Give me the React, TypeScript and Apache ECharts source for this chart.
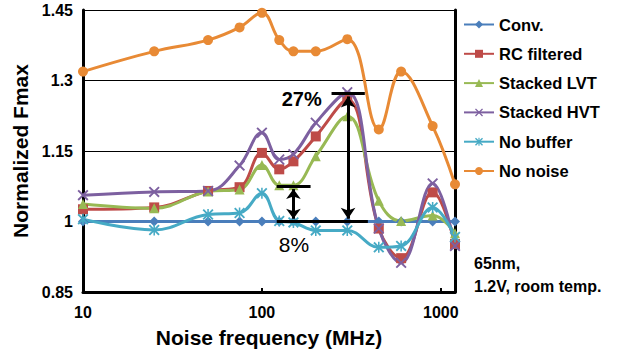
import React, { useEffect, useRef } from "react";
import * as echarts from "echarts";

const freqs = [10, 25, 50, 75, 100, 125, 150, 200, 300, 450, 600, 900, 1200];
const conv = [1, 1, 1, 1, 1, 1, 1, 1, 1, 1, 1, 1, 1];
const rcFiltered = [1.026, 1.03, 1.065, 1.073, 1.146, 1.111, 1.128, 1.181, 1.259, 0.985, 0.922, 1.062, 0.952];
const stackedLVT = [1.037, 1.028, 1.064, 1.068, 1.12, 1.077, 1.077, 1.139, 1.224, 1.044, 1.001, 1.013, 0.975];
const stackedHVT = [1.056, 1.063, 1.065, 1.119, 1.189, 1.132, 1.143, 1.21, 1.275, 0.985, 0.912, 1.081, 0.948];
const noBuffer = [1.005, 0.982, 1.015, 1.018, 1.06, 1.001, 0.998, 0.981, 0.981, 0.945, 0.948, 1.03, 0.967];
const noNoise = [1.319, 1.362, 1.386, 1.413, 1.444, 1.386, 1.362, 1.362, 1.388, 1.196, 1.319, 1.203, 1.079];

const yTicks = [0.85, 1, 1.15, 1.3, 1.45];
const xTicks = [10, 100, 1000];

// annotation values (data coordinates)
const baseLevel = 1.0;
const level8 = 1.075;
const level27 = 1.272;
const arrow8X = 150;
const arrow27X = 303;

const FONT = "'Liberation Sans', Arial, sans-serif";

const X_PATH = "path://M0,1.2 L1.2,0 L5,3.8 L8.8,0 L10,1.2 L6.2,5 L10,8.8 L8.8,10 L5,6.2 L1.2,10 L0,8.8 L3.8,5 Z";
const STAR_PATH =
  "path://M0,1.2 L1.2,0 L5,3.8 L8.8,0 L10,1.2 L6.2,5 L10,8.8 L8.8,10 L5,6.2 L1.2,10 L0,8.8 L3.8,5 Z M4.3,0 L5.7,0 L5.7,10 L4.3,10 Z";

function pairs(vals: number[]) {
  return freqs.map((f, i) => [f, vals[i]]);
}

export default function App() {
  const ref = useRef<HTMLDivElement>(null);
  useEffect(() => {
    document.body.style.margin = "0";
    if (!ref.current) return;
    const chart = echarts.init(ref.current, undefined, { renderer: "svg" });
    const mk = (name: string, vals: number[], color: string, symbol: string, size: number) => ({
      name,
      type: "line",
      data: pairs(vals),
      smooth: 0.4,
      symbol,
      symbolSize: size,
      lineStyle: { color, width: 3 },
      itemStyle: { color },
      emphasis: { disabled: true },
    });
    const series: any[] = [
      mk("Conv.", conv, "#4A7EBB", "diamond", 10),
      mk("RC filtered", rcFiltered, "#BE4B48", "rect", 10),
      mk("Stacked LVT", stackedLVT, "#98B954", "triangle", 10),
      mk("Stacked HVT", stackedHVT, "#7D60A0", X_PATH, 11),
      mk("No buffer", noBuffer, "#46AAC5", STAR_PATH, 11),
      mk("No noise", noNoise, "#E88A35", "circle", 10),
    ];
    series[5].markLine = {
      silent: true,
      symbol: ["none", "none"],
      label: { show: false },
      lineStyle: { color: "#000", width: 3, type: "solid" },
      data: [
        [{ coord: [121, baseLevel] }, { coord: [391, baseLevel] }],
        [{ coord: [121, level8] }, { coord: [187, level8] }],
        [{ coord: [245, level27] }, { coord: [376, level27] }],
        [
          { coord: [arrow8X, baseLevel + 0.006], symbol: "arrow", symbolSize: [11, 10] },
          { coord: [arrow8X, level8 - 0.006], symbol: "arrow", symbolSize: [11, 10] },
        ],
        [
          { coord: [arrow27X, baseLevel + 0.006], symbol: "arrow", symbolSize: [11, 11] },
          { coord: [arrow27X, level27 - 0.006], symbol: "arrow", symbolSize: [11, 11] },
        ],
      ],
    };
    series[5].markPoint = {
      silent: true,
      symbol: "circle",
      symbolSize: 1,
      itemStyle: { color: "rgba(0,0,0,0)" },
      data: [
        {
          coord: [167, 1.261],
          label: { show: true, position: "inside", formatter: "27%", color: "#000", fontSize: 20, fontWeight: "bold", fontFamily: FONT },
        },
        {
          coord: [151, 0.952],
          label: { show: true, position: "inside", formatter: "8%", color: "#000", fontSize: 21, fontFamily: FONT },
        },
      ],
    };

    chart.setOption({
      animation: false,
      grid: { left: 83, right: 164, top: 10, bottom: 60, containLabel: false },
      legend: {
        orient: "vertical",
        left: 463,
        top: 16,
        padding: 0,
        itemWidth: 30,
        itemHeight: 10,
        itemGap: 12.3,
        selectedMode: false,
        textStyle: { fontSize: 16.5, fontWeight: "bold", color: "#000", fontFamily: FONT, lineHeight: 17 },
        data: ["Conv.", "RC filtered", "Stacked LVT", "Stacked HVT", "No buffer", "No noise"],
      },
      xAxis: {
        type: "log",
        logBase: 10,
        min: 10,
        max: 1200,
        name: "Noise frequency (MHz)",
        nameLocation: "middle",
        nameGap: 35,
        nameTextStyle: { fontSize: 21, fontWeight: "bold", color: "#000", fontFamily: FONT },
        axisLine: { show: true, lineStyle: { color: "#000", width: 3 } },
        axisTick: { show: true, inside: true, length: 4, lineStyle: { color: "#000", width: 2 } },
        minorTick: { show: false },
        splitLine: { show: false },
        axisLabel: {
          margin: 12,
          fontSize: 16,
          fontWeight: "bold",
          color: "#000",
          fontFamily: FONT,
          formatter: (v: number) => {
            const l = Math.log10(v);
            const r = Math.round(l);
            if (Math.abs(l - r) < 1e-6 && xTicks.indexOf(Math.pow(10, r)) >= 0) return String(Math.pow(10, r));
            return "";
          },
        },
      },
      yAxis: [
        {
          type: "value",
          min: 0.85,
          max: 1.45,
          name: "Normalized Fmax",
          nameLocation: "middle",
          nameGap: 49,
          nameTextStyle: { fontSize: 21, fontWeight: "bold", color: "#000", fontFamily: FONT },
          axisLine: { show: true, lineStyle: { color: "#000", width: 3 } },
          axisTick: { show: false, customValues: yTicks },
          axisLabel: { customValues: yTicks, margin: 10, fontSize: 16, fontWeight: "bold", color: "#000", fontFamily: FONT },
          splitLine: { show: true, lineStyle: { color: "#000", width: 1 } },
        },
        {
          type: "value",
          position: "right",
          min: 0.85,
          max: 1.45,
          axisLine: { show: true, lineStyle: { color: "#000", width: 3 } },
          axisTick: { show: false },
          axisLabel: { show: false },
          splitLine: { show: false },
        },
      ],
      graphic: [
        {
          type: "text",
          left: 474,
          top: 252,
          style: {
            text: "65nm,\n1.2V, room temp.",
            fontSize: 16,
            fontWeight: "bold",
            fill: "#000",
            fontFamily: FONT,
            lineHeight: 23,
          },
        },
      ],
      series,
    });
    return () => chart.dispose();
  }, []);
  return <div ref={ref} style={{ width: 619, height: 353, position: "absolute", left: 0, top: 0 }} />;
}
